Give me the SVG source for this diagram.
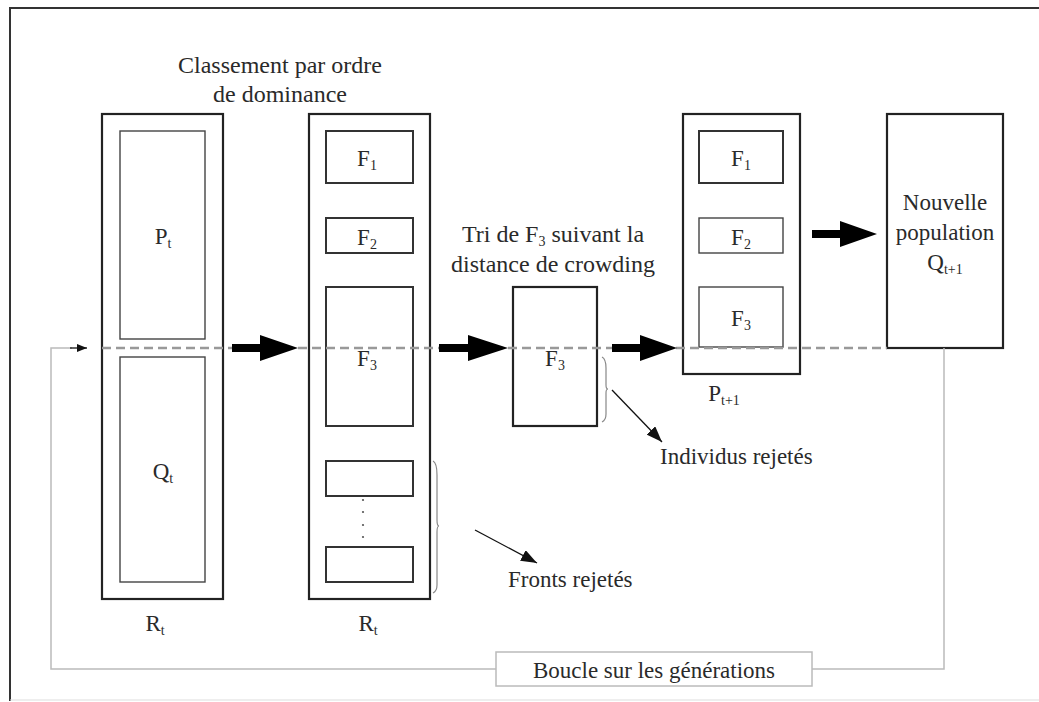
<svg xmlns="http://www.w3.org/2000/svg" width="1039" height="702" viewBox="0 0 1039 702">
<style>
text{font-family:"Liberation Serif","Times New Roman",serif;font-size:23px;fill:#2a2a2a;}
.t{font-size:24px;}
.c{text-anchor:middle;}
.sub{font-size:14px;}
.outer{fill:none;stroke:#222;stroke-width:2.2;}
.inner{fill:none;stroke:#333;stroke-width:2;}
.thin{fill:none;stroke:#444;stroke-width:1.4;}
.brace{fill:none;stroke:#888;stroke-width:1.2;}
.loop{fill:none;stroke:#bbb;stroke-width:1.5;}
</style>
<defs>
<marker id="sm" markerWidth="10" markerHeight="8" refX="10" refY="4" orient="auto" markerUnits="userSpaceOnUse"><path d="M0,0 L10,4 L0,8 Z" fill="#111"/></marker>
<marker id="sm2" markerWidth="16" markerHeight="12" refX="16" refY="6" orient="auto" markerUnits="userSpaceOnUse"><path d="M0,0 L16,6 L0,12 Z" fill="#111"/></marker>
</defs>
<rect x="0" y="0" width="1039" height="702" fill="#fff"/>
<path d="M10,701 L10,8 L1039,8" fill="none" stroke="#333" stroke-width="2"/>
<line x1="10" y1="700" x2="1039" y2="700" stroke="#ddd" stroke-width="1"/>

<g id="title1"><text class="c t" x="280" y="73">Classement par ordre</text><text class="c t" x="280" y="102">de dominance</text></g>
<g id="title2"><text class="c t" x="553" y="242">Tri de F<tspan class="sub" dy="4">3</tspan><tspan dy="-4"> suivant la</tspan></text><text class="c t" x="553" y="272">distance de crowding</text></g>

<g id="Rt1">
<rect class="outer" x="102" y="114" width="121" height="485"/>
<rect class="thin" x="120" y="131" width="85" height="208"/>
<rect class="thin" x="120" y="357" width="85" height="225"/>
<text class="c" x="163" y="244">P<tspan class="sub" dy="4">t</tspan></text>
<text class="c" x="163" y="479">Q<tspan class="sub" dy="4">t</tspan></text>
<text class="c" x="155" y="631">R<tspan class="sub" dy="4">t</tspan></text>
</g>

<g id="Rt2">
<rect class="outer" x="309" y="114" width="121" height="485"/>
<rect class="inner" x="326" y="131" width="87" height="52"/>
<rect class="inner" x="326" y="218" width="87" height="35"/>
<rect class="inner" x="326" y="287" width="87" height="139"/>
<rect class="inner" x="326" y="461" width="87" height="35"/>
<rect class="inner" x="326" y="547" width="87" height="35"/>
<text class="c" x="367" y="166">F<tspan class="sub" dy="4">1</tspan></text>
<text class="c" x="367" y="245">F<tspan class="sub" dy="4">2</tspan></text>
<text class="c" x="367" y="366">F<tspan class="sub" dy="4">3</tspan></text>
<g fill="#555"><circle cx="363" cy="500" r="1.1"/><circle cx="363" cy="512" r="1.1"/><circle cx="363" cy="525" r="1.1"/><circle cx="363" cy="537" r="1.1"/></g>
<path class="brace" d="M433,461 Q437,463 437,475 L437,520 Q437,526 439,526 Q437,526 437,532 L437,585 Q437,591 433,593"/>
<text class="c" x="368" y="631">R<tspan class="sub" dy="4">t</tspan></text>
</g>

<g id="F3sorted">
<rect class="outer" x="513" y="287" width="84" height="139"/>
<text class="c" x="555" y="366">F<tspan class="sub" dy="4">3</tspan></text>
<path class="brace" d="M602,357 Q606,359 606,368 L606,385 Q606,389 608,389 Q606,389 606,393 L606,414 Q606,420 602,422"/>
</g>

<g id="Pt1">
<rect class="outer" x="683" y="114" width="117" height="260"/>
<rect class="inner" x="699" y="131" width="84" height="52"/>
<rect class="thin" x="699" y="218" width="84" height="35"/>
<rect class="thin" x="699" y="287" width="84" height="60"/>
<text class="c" x="741" y="166">F<tspan class="sub" dy="4">1</tspan></text>
<text class="c" x="741" y="245">F<tspan class="sub" dy="4">2</tspan></text>
<text class="c" x="741" y="326">F<tspan class="sub" dy="4">3</tspan></text>
<text class="c" x="724" y="401">P<tspan class="sub" dy="4">t+1</tspan></text>
</g>

<g id="Qt1">
<rect class="outer" x="887" y="114" width="116" height="234"/>
<text class="c" x="945" y="210">Nouvelle</text>
<text class="c" x="945" y="240">population</text>
<text class="c" x="945" y="270">Q<tspan class="sub" dy="4">t+1</tspan></text>
</g>

<g id="loopbox">
<rect x="496" y="652" width="316" height="34" fill="#fff" stroke="#bbb" stroke-width="1.5"/>
<text class="c" x="654" y="678">Boucle sur les générations</text>
</g>

<g id="labels">
<text x="660" y="464">Individus rejetés</text>
<text x="508" y="587">Fronts rejetés</text>
</g>

<g id="connectors">
<line x1="102" y1="348" x2="887" y2="348" stroke="#999" stroke-width="2.5" stroke-dasharray="9,5"/>
<polyline class="loop" points="944,348 944,669 812,669"/>
<polyline class="loop" points="496,669 51,669 51,348 72,348"/>
<line x1="70" y1="348" x2="87" y2="348" stroke="#111" stroke-width="1.3" marker-end="url(#sm)"/>
<g fill="#000">
<path d="M232,344 L260,344 L260,335 L298,348 L260,361 L260,352 L232,352 Z"/>
<path d="M439,344 L468,344 L468,335 L508,348 L468,361 L468,352 L439,352 Z"/>
<path d="M612,344 L640,344 L640,335 L677,348 L640,361 L640,352 L612,352 Z"/>
<path d="M812,230 L840,230 L840,221 L877,234 L840,247 L840,238 L812,238 Z"/>
</g>
<line x1="612" y1="390" x2="662" y2="442" stroke="#111" stroke-width="1.3" marker-end="url(#sm2)"/>
<line x1="475" y1="530" x2="537" y2="563" stroke="#111" stroke-width="1.3" marker-end="url(#sm2)"/>
</g>
</svg>
